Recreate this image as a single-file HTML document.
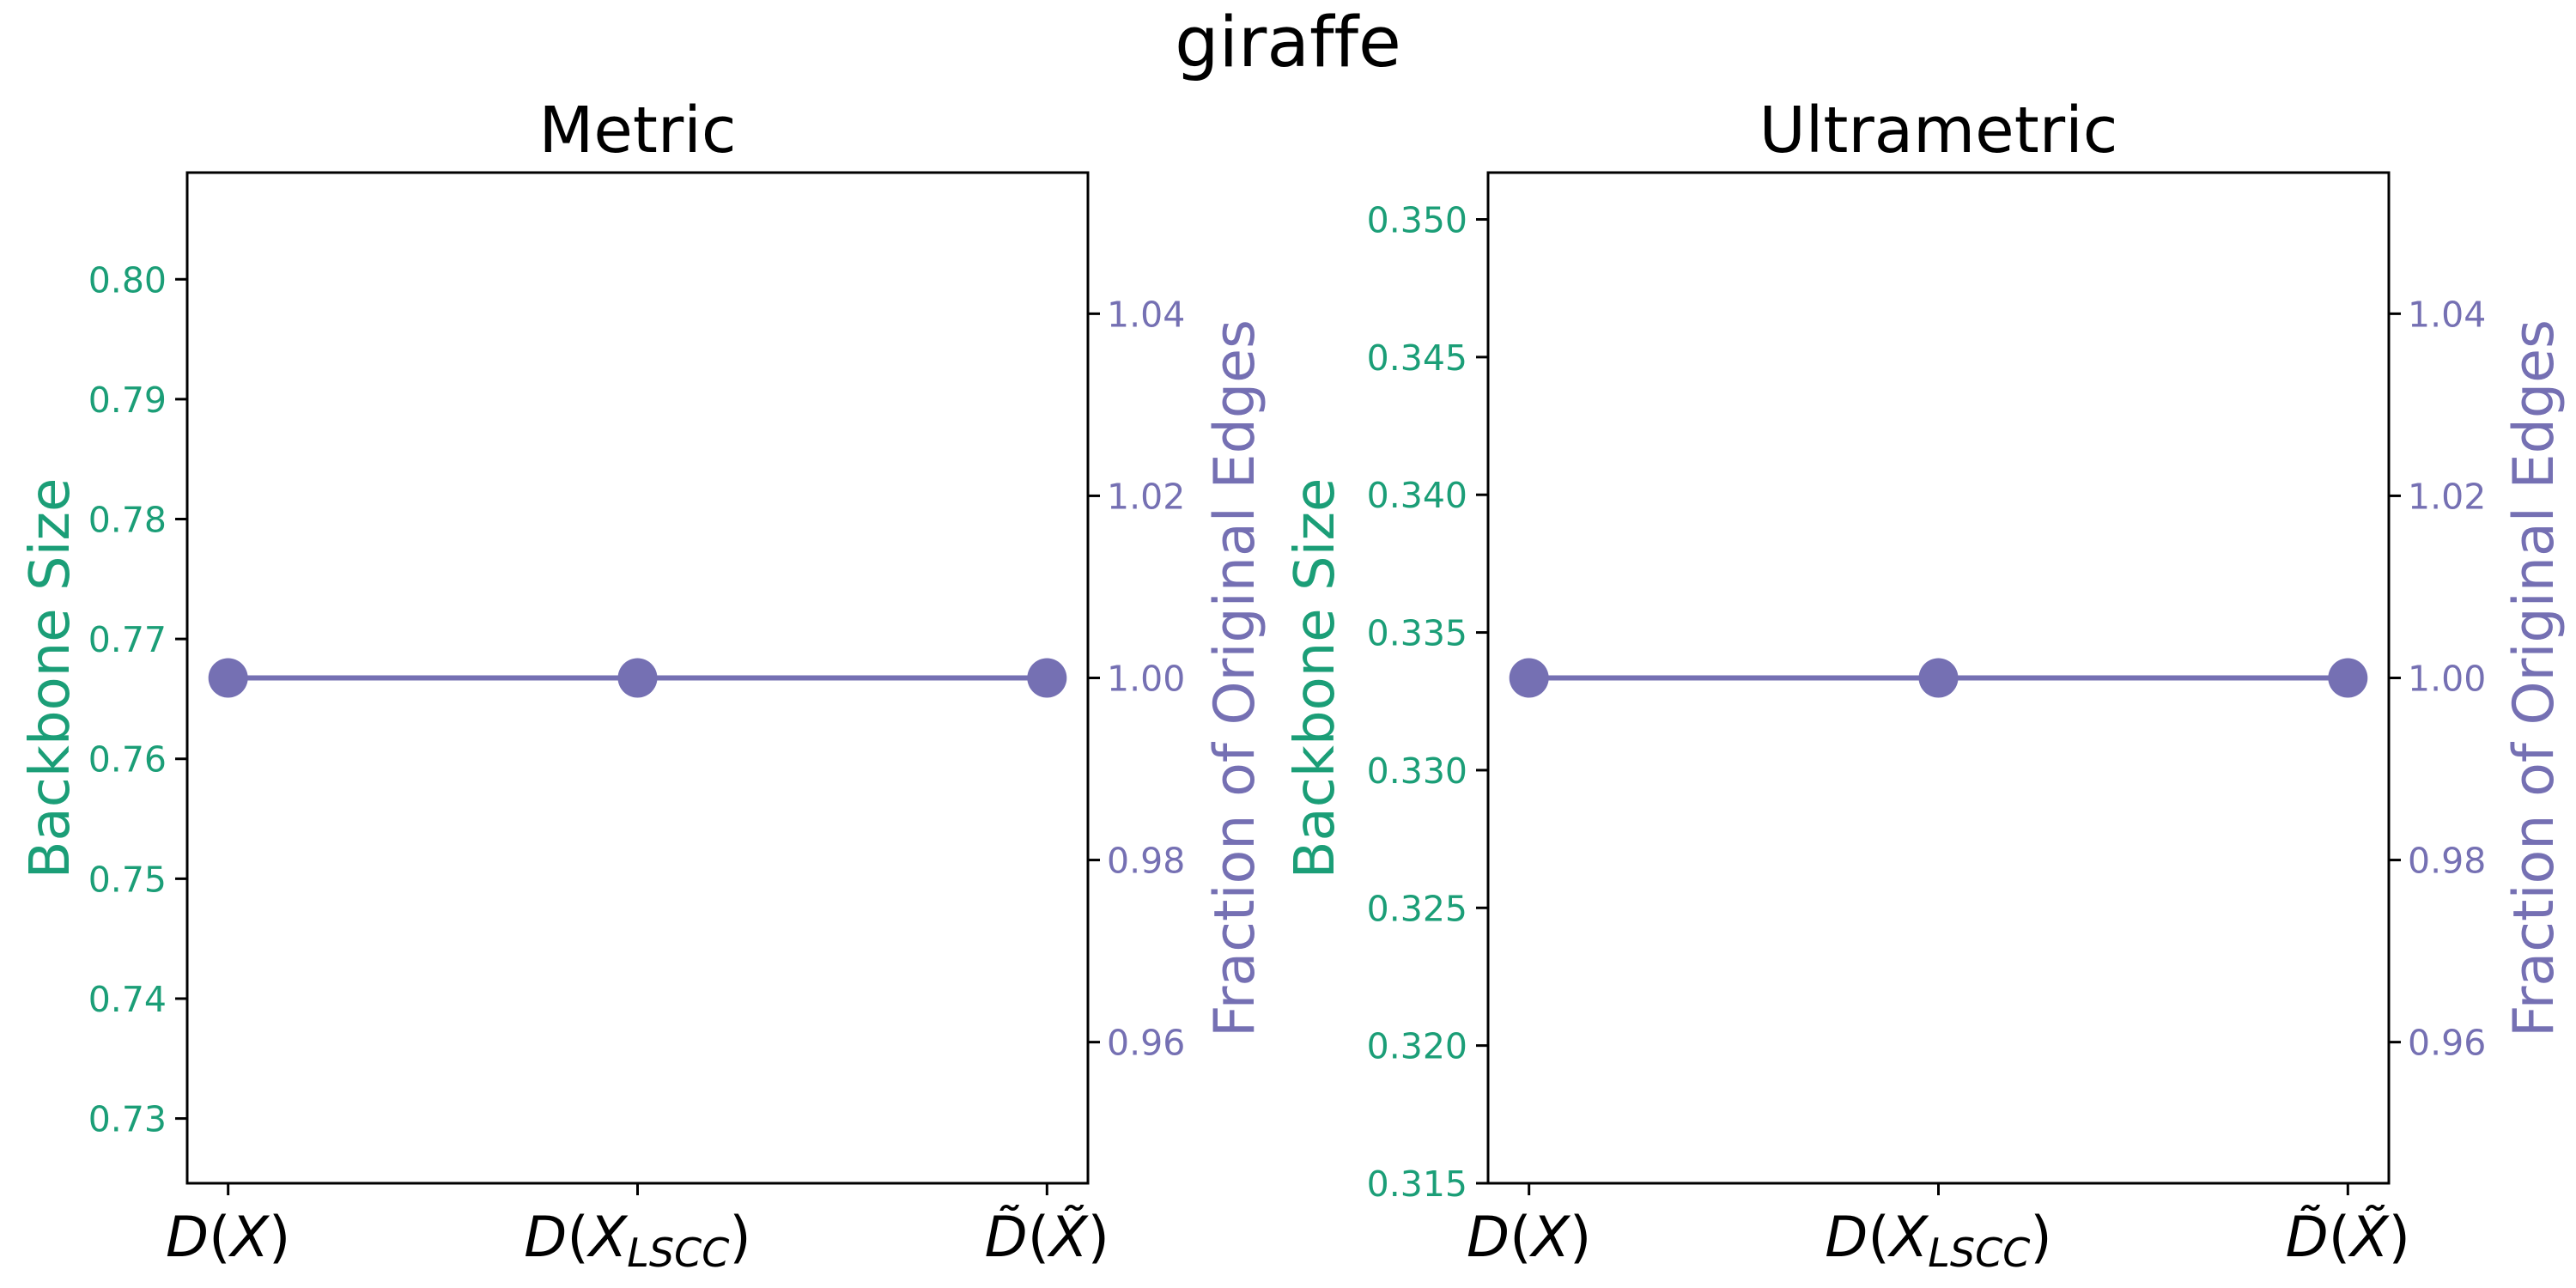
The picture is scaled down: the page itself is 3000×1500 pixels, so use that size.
<!DOCTYPE html>
<html><head><meta charset="utf-8">
<style>
html,body{margin:0;padding:0;background:#fff;}
svg{display:block;font-family:"DejaVu Sans","Liberation Sans",sans-serif;font-variant-ligatures:none;}
</style></head>
<body>
<svg id="fig" width="3000" height="1500" viewBox="0 0 3000 1500" xmlns="http://www.w3.org/2000/svg">
<text x="1500" y="77" font-size="81" text-anchor="middle" fill="#000">giraffe</text>
</svg>
<script>
const categories = ["D(X)", "D(X_LSCC)", "D~(X~)"];
const metricBackbone = [0.76667, 0.76667, 0.76667];
const metricFraction = [1.0, 1.0, 1.0];
const ultraBackbone = [0.33333, 0.33333, 0.33333];
const ultraFraction = [1.0, 1.0, 1.0];
const metricLeftTicks = [0.73, 0.74, 0.75, 0.76, 0.77, 0.78, 0.79, 0.80];
const ultraLeftTicks = [0.315, 0.320, 0.325, 0.330, 0.335, 0.340, 0.345, 0.350];
const rightTicks = [0.96, 0.98, 1.00, 1.02, 1.04];
const panelTitles = ["Metric", "Ultrametric"];

const NS = "http://www.w3.org/2000/svg";
const svg = document.getElementById("fig");
const GREEN = "#1b9e77", PURPLE = "#7570b3";
function mk(tag, attrs, parent){
  const e = document.createElementNS(NS, tag);
  for (const k in attrs) e.setAttribute(k, attrs[k]);
  (parent||svg).appendChild(e);
  return e;
}

function panel(px0, title, leftTicks, leftDom, leftDec, backbone, fraction, slug){
  const x0 = px0, x1 = px0 + 1049, y0 = 201, y1 = 1378;
  const g = mk("g", {});
  
  
  const xs = i => x0 + (i + 0.1) / 2.2 * (x1 - x0);
  const yl = v => y1 - (v - leftDom[0]) / (leftDom[1] - leftDom[0]) * (y1 - y0);
  const rDom = [0.9445, 1.0555];
  const yr = v => y1 - (v - rDom[0]) / (rDom[1] - rDom[0]) * (y1 - y0);

  const t = mk("text", {x:(x0+x1)/2, y:177, "font-size":74, "text-anchor":"middle", fill:"#000"}, g);
  t.textContent = title;
  
  

  leftTicks.forEach(v => {
    const y = yl(v);
    mk("line", {x1:x0-14, x2:x0, y1:y, y2:y, stroke:"#000", "stroke-width":3}, g);
    const tx = mk("text", {x:x0-24, y:y+15, "font-size":41, "text-anchor":"end", fill:GREEN}, g);
    tx.textContent = v.toFixed(leftDec);
    
    
  });
  rightTicks.forEach(v => {
    const y = yr(v);
    mk("line", {x1:x1, x2:x1+14, y1:y, y2:y, stroke:"#000", "stroke-width":3}, g);
    const tx = mk("text", {x:x1+22, y:y+15, "font-size":41, "text-anchor":"start", fill:PURPLE}, g);
    tx.textContent = v.toFixed(2);
    
    
  });
  categories.forEach((c, i) => {
    const x = xs(i);
    mk("line", {x1:x, x2:x, y1:y1, y2:y1+14, stroke:"#000", "stroke-width":3}, g);
    const tx = mk("text", {x:x, y:1463, "font-size":65, "text-anchor":"middle", fill:"#000", "font-style":"italic"}, g);
    
    
    if (c === "D(X)") { tx.innerHTML = 'D<tspan font-style="normal">(</tspan>X<tspan font-style="normal">)</tspan>'; }
    else if (c === "D(X_LSCC)") { tx.innerHTML = 'D<tspan font-style="normal">(</tspan>X<tspan font-size="46" dy="12">LSCC</tspan><tspan font-style="normal" dy="-12">)</tspan>'; }
    else { tx.innerHTML = 'D\u0303<tspan font-style="normal">(</tspan>X\u0303<tspan font-style="normal">)</tspan>'; }
  });
  const pts = fraction.map((v, i) => xs(i) + "," + yr(v)).join(" ");
  const pl = mk("polyline", {points:pts, fill:"none", stroke:PURPLE, "stroke-width":6}, g);
  
  
  fraction.forEach((v, i) => {
    const c = mk("circle", {cx:xs(i), cy:yr(v), r:23, fill:PURPLE}, g);
    
    
  });
  backbone.forEach((v, i) => {
    const c = mk("circle", {cx:xs(i), cy:yl(v), r:0, fill:GREEN}, g);
    
    
  });
  const fr = mk("rect", {x:x0, y:y0, width:x1-x0, height:y1-y0, fill:"none", stroke:"#000", "stroke-width":3}, g);
  
  

  const lcx = slug === "metric" ? 57 : 1530;
  const ll = mk("text", {x:lcx, y:790, "font-size":64, "text-anchor":"middle", fill:GREEN, transform:`rotate(-90 ${lcx} 790)`, dy:23}, g);
  ll.textContent = "Backbone Size";
  
  
  const rcx = slug === "metric" ? 1437 : 2950;
  const rl = mk("text", {x:rcx, y:790, "font-size":65, "text-anchor":"middle", fill:PURPLE, transform:`rotate(-90 ${rcx} 790)`, dy:23}, g);
  rl.textContent = "Fraction of Original Edges";
  
  
}
panel(218, panelTitles[0], metricLeftTicks, [0.7246, 0.8089], 2, metricBackbone, metricFraction, "metric");
panel(1733, panelTitles[1], ultraLeftTicks, [0.3150, 0.3517], 3, ultraBackbone, ultraFraction, "ultrametric");
</script>
</body></html>
